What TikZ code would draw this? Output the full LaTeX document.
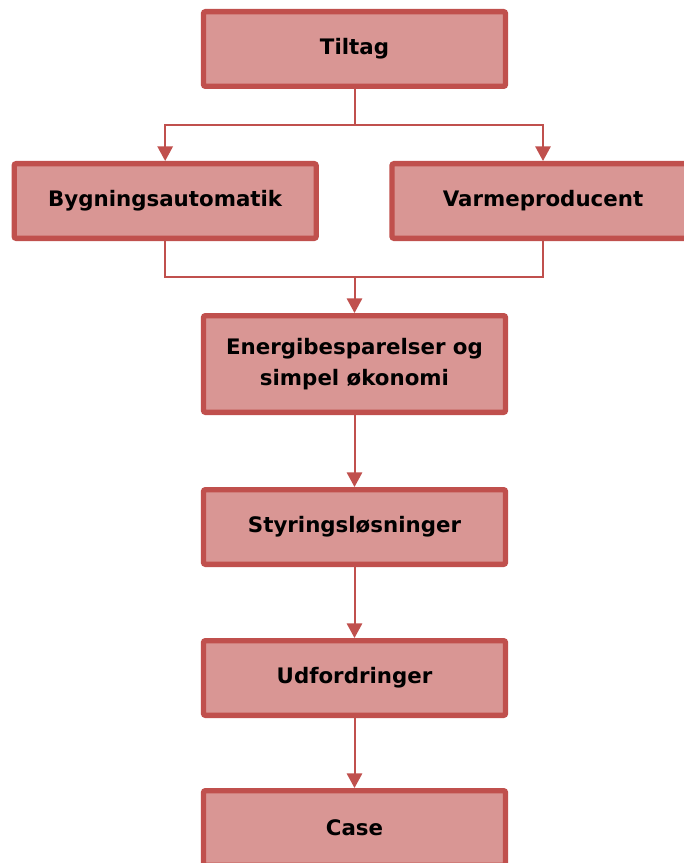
\documentclass[tikz,border=0pt]{standalone}
\usepackage{fontspec}
\setmainfont{DejaVu Sans}
\usetikzlibrary{arrows.meta,positioning}
\definecolor{boxfill}{HTML}{D99694}
\definecolor{boxline}{HTML}{C0504D}
\tikzset{
	box/.style={draw=boxline, line width=4pt, rounded corners=1.5pt, fill=boxfill, align=center, minimum width=226.5pt, minimum height=56pt, font=\fontsize{16}{23}\selectfont\bfseries},
	link/.style={draw=boxline, line width=1.5pt},
	flow/.style={link, -{Triangle[length=11pt, width=11.5pt]}}
}
\begin{document}
\begin{tikzpicture}[node distance=54pt and 12mm]
	\useasboundingbox (0,0) rectangle (513pt,-647.25pt);
	\node[box] (tiltag) at (265.875pt,-36.75pt) {Tiltag};
	\node[box, below=of tiltag, xshift=-142pt] (bygning) {Bygningsautomatik};
	\node[box, below=of tiltag, xshift=141.375pt] (varme) {Varmeproducent};
	\node[box, below=of tiltag, yshift=-114pt, minimum height=72.5pt] (energi) {Energibesparelser og\\simpel økonomi};
	\node[box, below=of energi] (styring) {Styringsløsninger};
	\node[box, below=53.25pt of styring] (udfordring) {Udfordringer};
	\node[box, below=52.5pt of udfordring] (case) {Case};
	\draw[flow] (tiltag.south) -- ++(0,-27pt) -| (bygning.north);
	\draw[flow] (tiltag.south) -- ++(0,-27pt) -| (varme.north);
	\draw[link] (bygning.south) -- ++(0,-27pt) -| (varme.south);
	\draw[flow] (bygning.south) ++(0,-27pt) -| (energi.north);
	\draw[flow] (energi.south) -- (styring.north);
	\draw[flow] (styring.south) -- (udfordring.north);
	\draw[flow] (udfordring.south) -- (case.north);
\end{tikzpicture}
\end{document}
